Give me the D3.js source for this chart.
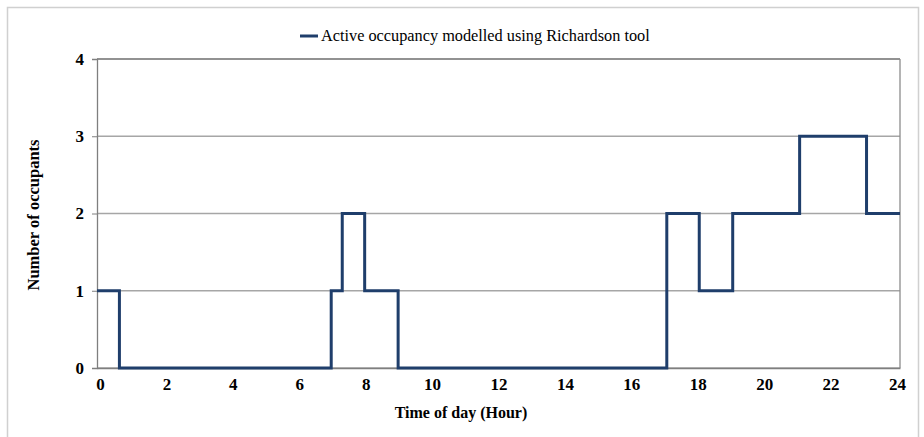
<!DOCTYPE html>
<html>
<head>
<meta charset="utf-8">
<script src="https://cdn.jsdelivr.net/npm/d3@7"></script>
<style>
body { margin:0; background:#fff; }
text { font-family:"Liberation Serif","Times New Roman",serif; fill:#000; }
.tick text { font-weight:bold; font-size:17px; }
</style>
</head>
<body>
<svg id="chart"></svg>
<script>
// step times (hours) and number of occupants from that time on
var hours     = [0, 0.67, 7.0, 7.33, 8.0, 9.0, 17.03, 18.0, 19.0, 21.0, 23.0, 24];
var occupants = [1, 0,    1,   2,    1,   0,   2,     1,    2,    3,    2,    2];
var xTicks = [0,2,4,6,8,10,12,14,16,18,20,22,24];
var yTicks = [0,1,2,3,4];
var seriesName = "Active occupancy modelled using Richardson tool";

var screen = {width:924,height:437}
var margins = {left:97,right:24,top:59,bottom:69}
var graph = {
    width:screen.width-margins.left-margins.right,
    height:screen.height-margins.top-margins.bottom
}

var svg = d3.select("#chart")
    .attr("width",screen.width)
    .attr("height",screen.height)

// outer frame
svg.append("path")
    .attr("d","M7.5,437V7.5H918.5V437")
    .attr("fill","none")
    .attr("stroke","#d0d0d0")
    .attr("stroke-width",1.5)

var xScale = d3.scaleLinear().domain([0,24]).range([0,graph.width])
var yScale = d3.scaleLinear().domain([0,4]).range([graph.height,0])

var target = svg.append("g")
    .attr("transform","translate("+margins.left+","+margins.top+")")

// gridlines
target.selectAll(".grid")
    .data(yTicks)
    .enter()
    .append("line")
    .attr("x1",0).attr("x2",graph.width)
    .attr("y1",function(d){return yScale(d)})
    .attr("y2",function(d){return yScale(d)})
    .attr("stroke",function(d){return d==4 ? "#6e6e6e" : "#a6a6a6"})
    .attr("stroke-width",1.3)

// right border
target.append("line")
    .attr("x1",graph.width).attr("x2",graph.width)
    .attr("y1",0).attr("y2",graph.height)
    .attr("stroke","#8c8c8c").attr("stroke-width",1.3)

var yAxis = d3.axisLeft(yScale).tickValues(yTicks).tickSize(5).tickPadding(8).tickFormat(d3.format("d"))
var ya = target.append("g").call(yAxis)
ya.select(".domain").attr("stroke","#7f7f7f").attr("stroke-width",1.3)
ya.selectAll(".tick line").attr("stroke","#7f7f7f")

var xAxis = d3.axisBottom(xScale).tickValues(xTicks).tickSize(0).tickPadding(10)
var xa = target.append("g")
    .attr("transform","translate(0,"+graph.height+")")
    .call(xAxis)
xa.select(".domain").attr("stroke","#7f7f7f").attr("stroke-width",1.3)
xa.selectAll(".tick text").attr("dx",function(d){return 3-d/4})

var data = hours.map(function(h,i){return {h:h,v:occupants[i]}})
var line = d3.line()
    .x(function(d){return xScale(d.h)})
    .y(function(d){return yScale(d.v)})
    .curve(d3.curveStepAfter)

target.append("path")
    .datum(data)
    .attr("d",line)
    .attr("fill","none")
    .attr("stroke","#1f3e6b")
    .attr("stroke-width",3)

// labels
svg.append("text")
    .text("Time of day (Hour)")
    .attr("text-anchor","middle")
    .attr("font-weight","bold")
    .attr("font-size",16)
    .attr("x",461)
    .attr("y",418)

svg.append("text")
    .text("Number of occupants")
    .attr("text-anchor","middle")
    .attr("font-weight","bold")
    .attr("font-size",16.5)
    .attr("transform","translate(39,215) rotate(-90)")

// legend
var legend = svg.append("g").attr("transform","translate(300,36)")
legend.append("line")
    .attr("x1",0).attr("x2",18).attr("y1",0).attr("y2",0)
    .attr("stroke","#1f3e6b").attr("stroke-width",3)
legend.append("text")
    .text(seriesName)
    .attr("x",21)
    .attr("y",5)
    .attr("font-size",16.3)
</script>
</body>
</html>
